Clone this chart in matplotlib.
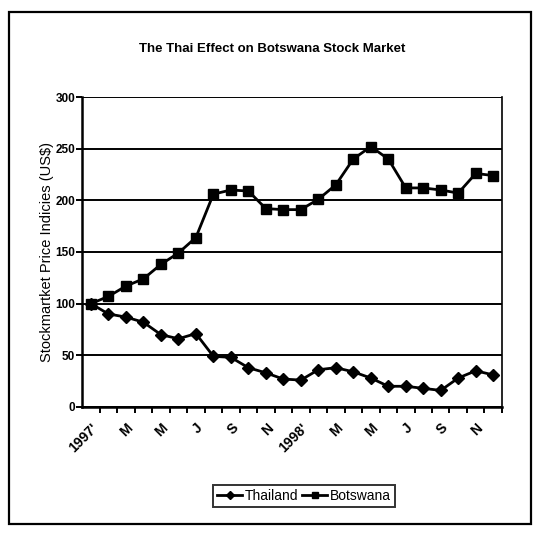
import matplotlib
matplotlib.use("Agg")
import matplotlib.pyplot as plt
from matplotlib.patches import Rectangle

# monthly index values, Jan 1997 = 100
months = list(range(24))
tick_labels = ["1997'", "M", "M", "J", "S", "N",
               "1998'", "M", "M", "J", "S", "N"]
thailand = [100, 90, 87, 82, 70, 66, 71, 49, 48, 38, 33, 27,
            26, 36, 38, 34, 28, 20, 20, 18, 16, 28, 35, 31]
botswana = [100, 107, 117, 124, 138, 149, 164, 206, 210, 209, 192, 191,
            191, 201, 215, 240, 252, 240, 212, 212, 210, 207, 226, 224]

plt.rcParams["font.family"] = ["Liberation Sans", "DejaVu Sans"]

fig = plt.figure(figsize=(5.48, 5.39), dpi=100)
ax = fig.add_axes([0.150, 0.245, 0.766, 0.575])

ax.plot(months, thailand, color="black", lw=2, marker="D", ms=6,
        label="Thailand")
ax.plot(months, botswana, color="black", lw=2, marker="s", ms=7,
        label="Botswana")

ax.set_xlim(-0.5, 23.5)
ax.set_ylim(0, 300)
ax.set_yticks(range(0, 301, 50))
ax.yaxis.grid(True, color="black", lw=1.4)
ax.set_axisbelow(True)

ax.set_xticks(months[::2])
ax.set_xticklabels(tick_labels, rotation=45, ha="right",
                   rotation_mode="anchor", fontsize=10, fontweight="bold")
ax.set_xticks([m + 0.5 for m in months], minor=True)
ax.tick_params(axis="x", which="major", length=0, pad=10)
ax.tick_params(axis="x", which="minor", length=4, width=1.4, direction="out")
ax.tick_params(axis="y", length=4, width=1.4, labelsize=8.5, pad=1)
for t in ax.get_yticklabels():
    t.set_fontweight("bold")

for side in ("left", "bottom"):
    ax.spines[side].set_linewidth(1.8)
ax.spines["right"].set_linewidth(1.2)
ax.spines["top"].set_visible(False)

ax.set_ylabel("Stockmartket Price Indicies (US$)", fontsize=10.5, labelpad=1)

fig.text(0.497, 0.91, "The Thai Effect on Botswana Stock Market",
         ha="center", va="center", fontsize=9.5, fontweight="bold")

leg = ax.legend(loc="center", bbox_to_anchor=(0.555, 0.08),
                bbox_transform=fig.transFigure, ncol=2, fontsize=10,
                frameon=True, fancybox=False, handlelength=1.8,
                handletextpad=0.2, columnspacing=0.3, borderpad=0.3,
                markerscale=0.7)
leg.get_frame().set_edgecolor("black")
leg.get_frame().set_linewidth(1.4)

fig.patches.append(Rectangle((0.016, 0.028), 0.953, 0.95,
                             transform=fig.transFigure, fill=False,
                             edgecolor="black", lw=1.6))

fig.savefig("out.png", dpi=100)
